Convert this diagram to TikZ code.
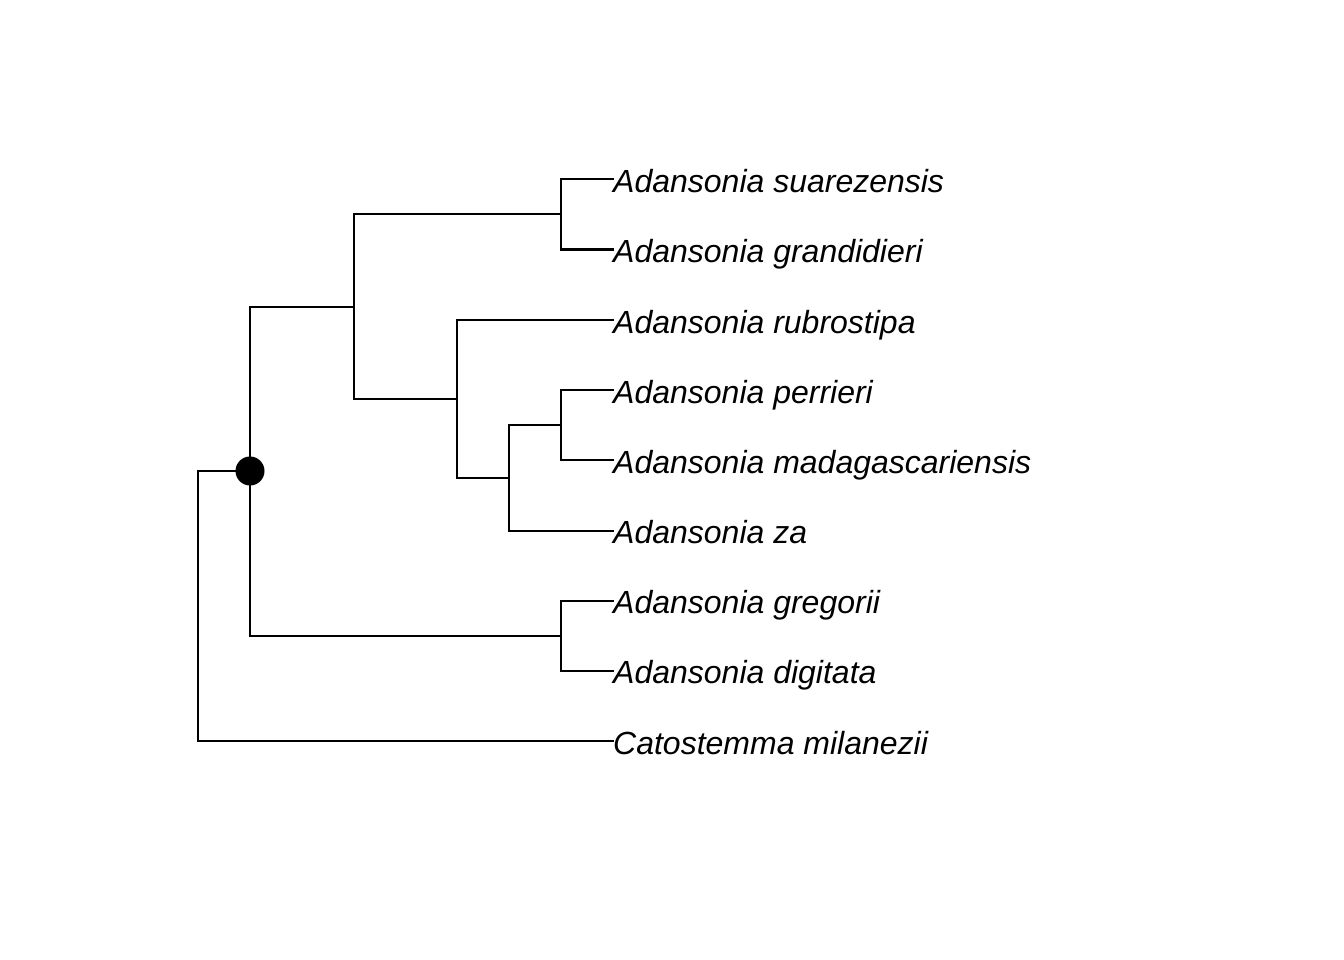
\documentclass[tikz,border=0pt]{standalone}
\usepackage{fontspec}
\setmainfont{Liberation Sans}
\begin{document}
\begin{tikzpicture}[x=1pt,y=-1pt,
  branch/.style={draw=black,line width=2pt,line cap=rect},
  tip/.style={anchor=west,inner sep=0pt,text height=26pt,text depth=0pt,
    font=\fontsize{32}{38}\selectfont\itshape},
  dotnode/.style={circle,fill=black,inner sep=0pt,minimum size=29pt}]
\useasboundingbox (0,0) rectangle (1344,960);
% tips
\node[tip] (t1) at (613,179.5) {Adansonia suarezensis};
\node[tip] (t2) at (613,249.5) {Adansonia grandidieri};
\node[tip] (t3) at (613,320)   {Adansonia rubrostipa};
\node[tip] (t4) at (613,390)   {Adansonia perrieri};
\node[tip] (t5) at (613,460)   {Adansonia madagascariensis};
\node[tip] (t6) at (613,530.5) {Adansonia za};
\node[tip] (t7) at (613,600.5) {Adansonia gregorii};
\node[tip] (t8) at (613,670.5) {Adansonia digitata};
\node[tip] (t9) at (613,741)   {Catostemma milanezii};
% internal nodes
\coordinate (n1) at (561,214.5);
\coordinate (n2) at (561,425);
\coordinate (n3) at (509,477.75);
\coordinate (n4) at (457,398.9);
\coordinate (n5) at (354,306.7);
\coordinate (n6) at (561,635.5);
\coordinate (n7) at (250,471);
\coordinate (root) at (198,606);
% branches
\draw[branch] (t1.west) -| (n1) |- (t2.west);
\draw[branch] (t4.west) -| (n2) |- (t5.west);
\draw[branch] (n2) -| (n3) |- (t6.west);
\draw[branch] (t3.west) -| (n4) |- (n3);
\draw[branch] (n1) -| (n5) |- (n4);
\draw[branch] (t7.west) -| (n6) |- (t8.west);
\draw[branch] (n5) -| (n7) |- (n6);
\draw[branch] (n7) -| (root) |- (t9.west);
\node[dotnode] (dot) at (n7) {};
\end{tikzpicture}
\end{document}
